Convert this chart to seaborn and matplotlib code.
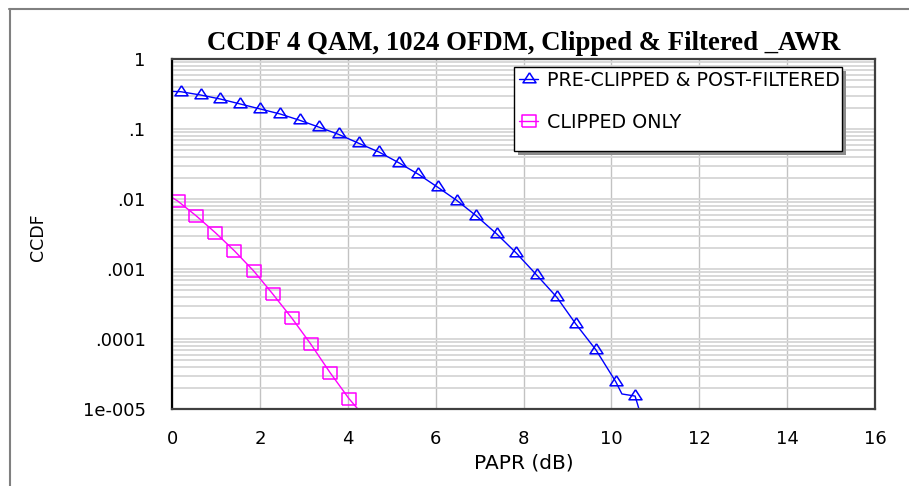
import numpy as np
import matplotlib
matplotlib.use("Agg")
import matplotlib.pyplot as plt
from matplotlib.lines import Line2D
from matplotlib.patches import Rectangle
from matplotlib.ticker import LogLocator, NullFormatter
import seaborn as sns

# ---- data -------------------------------------------------------------
# Pre-clipped & post-filtered signal: marker samples (PAPR dB, CCDF)
pre_papr = [0.20, 0.65, 1.10, 1.55, 2.01, 2.46, 2.91, 3.35, 3.79, 4.25,
            4.71, 5.16, 5.61, 6.05, 6.49, 6.93, 7.40, 7.84, 8.30, 8.76,
            9.19, 9.65, 10.10, 10.54]
pre_ccdf = [0.341, 0.306, 0.268, 0.228, 0.193, 0.164, 0.133, 0.106, 0.0839,
            0.0625, 0.0469, 0.0330, 0.0225, 0.0147, 0.00946, 0.00571,
            0.00313, 0.00168, 0.00082, 0.000394, 0.000164, 6.97e-5,
            2.45e-5, 1.53e-5]
# extra trace samples between markers
pre_extra_papr = [0.00, 10.24, 10.65]
pre_extra_ccdf = [0.345, 1.64e-5, 9.0e-6]

# Clipped-only signal
clip_papr = [0.13, 0.55, 0.99, 1.42, 1.86, 2.29, 2.73, 3.16, 3.60, 4.03]
clip_ccdf = [0.00936, 0.00575, 0.00329, 0.00182, 0.000936, 0.000442,
             0.000198, 8.43e-5, 3.29e-5, 1.40e-5]
clip_extra_papr = [0.00, 4.26]
clip_extra_ccdf = [0.0105, 9.5e-6]

x_ticks = [0, 2, 4, 6, 8, 10, 12, 14, 16]
y_ticks = [1, 0.1, 0.01, 0.001, 0.0001, 0.00001]
y_tick_labels = ["1", ".1", ".01", ".001", ".0001", "1e-005"]

series_labels = ["PRE-CLIPPED & POST-FILTERED", "CLIPPED ONLY"]

# ---- style ------------------------------------------------------------
sns.set_style("white")
plt.rcParams["font.family"] = ["DejaVu Sans"]
plt.rcParams["text.color"] = "black"
plt.rcParams["axes.labelcolor"] = "black"

BLUE = "#0000ff"
MAGENTA = "#ff00ff"
W, H = 909, 486

# wide open triangle; origin sits a bit below the box centre
tri_marker = [(0.0, 6.7), (-6.5, -3.3), (6.5, -3.3), (0.0, 6.7)]
tri_size = 9.65
# wide open box
box_marker = [(-7.0, -5.5), (7.0, -5.5), (7.0, 5.5), (-7.0, 5.5), (-7.0, -5.5)]
box_size = 10.1


def merge(xa, ya, xb, yb):
    pts = sorted(zip(list(xa) + list(xb), list(ya) + list(yb)))
    return [p[0] for p in pts], [p[1] for p in pts]


fig = plt.figure(figsize=(W / 100, H / 100), dpi=100)
ax = fig.add_axes([172 / W, 1 - 409 / H, 703 / W, 350 / H])

pre_lx, pre_ly = merge(pre_papr, pre_ccdf, pre_extra_papr, pre_extra_ccdf)
clip_lx, clip_ly = merge(clip_papr, clip_ccdf, clip_extra_papr, clip_extra_ccdf)

sns.lineplot(x=pre_lx, y=pre_ly, ax=ax, color=BLUE, lw=1.0,
             estimator=None, sort=False)
sns.lineplot(x=pre_papr, y=pre_ccdf, ax=ax, color=BLUE, linestyle="",
             marker=tri_marker, markersize=tri_size, markerfacecolor="none",
             markeredgecolor=BLUE, markeredgewidth=1.1,
             estimator=None, sort=False)
sns.lineplot(x=clip_lx, y=clip_ly, ax=ax, color=MAGENTA, lw=1.0,
             estimator=None, sort=False)
sns.lineplot(x=clip_papr, y=clip_ccdf, ax=ax, color=MAGENTA, linestyle="",
             marker=box_marker, markersize=box_size, markerfacecolor="none",
             markeredgecolor=MAGENTA, markeredgewidth=1.1,
             estimator=None, sort=False)

# ---- axes ---------------------------------------------------------------
ax.set_yscale("log")
ax.set_xlim(0, 16)
ax.set_ylim(1e-5, 1)
ax.set_xticks(x_ticks)
ax.set_xticks(list(range(1, 16, 2)), minor=True)
ax.set_yticks(y_ticks)
ax.set_yticklabels(y_tick_labels)
ax.yaxis.set_minor_locator(LogLocator(base=10, subs=np.arange(2, 10), numticks=30))
ax.yaxis.set_minor_formatter(NullFormatter())

ax.tick_params(axis="y", which="both", length=0, pad=19, labelsize=13,
               labelcolor="black")
ax.tick_params(axis="x", which="major", length=0, pad=15, labelsize=13,
               labelcolor="black")
ax.tick_params(axis="x", which="minor", direction="in", length=6.5,
               width=1.2, color="#303030", top=False)

ax.set_axisbelow(True)
ax.grid(axis="x", which="major", color="#c2c2c2", lw=1.0)
ax.grid(axis="y", which="both", color="#d6d6d6", lw=1.3)

for side in ["top", "right", "bottom"]:
    ax.spines[side].set_color("#404040")
    ax.spines[side].set_linewidth(1.6)
ax.spines["left"].set_color("black")
ax.spines["left"].set_linewidth(1.6)

ax.set_xlabel("PAPR (dB)", fontsize=14.5, va="top")
ax.xaxis.set_label_coords(0.5, (409 - 453) / 350)
ax.set_ylabel("CCDF", fontsize=12.5)
ax.yaxis.set_label_coords((47 - 172) / 703, 0.49)

fig.text(523.5 / W, 1 - 49.5 / H,
         "CCDF 4 QAM, 1024 OFDM, Clipped & Filtered _AWR",
         ha="center", va="baseline", fontsize=19.3, fontweight="bold",
         color="black", family=["Liberation Serif", "DejaVu Serif"])

# ---- legend box with drop shadow ------------------------------------------
lx0, lx1, ly0, ly1 = 514.3, 841.7, 66.7, 151.0
fig.add_artist(Rectangle(((lx0 + 4) / W, 1 - (ly1 + 4) / H),
                         (lx1 - lx0) / W, (ly1 - ly0) / H,
                         transform=fig.transFigure, facecolor="#8c8c8c",
                         edgecolor="none", zorder=3.9))
fig.add_artist(Rectangle((lx0 / W, 1 - ly1 / H),
                         (lx1 - lx0) / W, (ly1 - ly0) / H,
                         transform=fig.transFigure, facecolor="white",
                         edgecolor="black", lw=1.0, zorder=4))

handles = [
    Line2D([], [], color=BLUE, lw=1.0, marker=tri_marker, markersize=tri_size,
           markerfacecolor="none", markeredgecolor=BLUE, markeredgewidth=1.1),
    Line2D([], [], color=MAGENTA, lw=1.0, marker=box_marker, markersize=box_size,
           markerfacecolor="none", markeredgecolor=MAGENTA, markeredgewidth=1.1),
]
fig.legend(handles, series_labels, loc="upper left",
           bbox_to_anchor=(519 / W, 1 - 70.5 / H), frameon=False,
           fontsize=13.7, handlelength=1.0, handletextpad=0.45,
           labelspacing=1.24, borderpad=0, borderaxespad=0)

# ---- outer frame ----------------------------------------------------------
fig.add_artist(Line2D([9 / W, 1], [1 - 9 / H, 1 - 9 / H],
                      transform=fig.transFigure, color="#808080", lw=1.5))
fig.add_artist(Line2D([9.5 / W, 9.5 / W], [0, 1 - 9 / H],
                      transform=fig.transFigure, color="#808080", lw=1.5))

fig.savefig("out.png", dpi=100)
